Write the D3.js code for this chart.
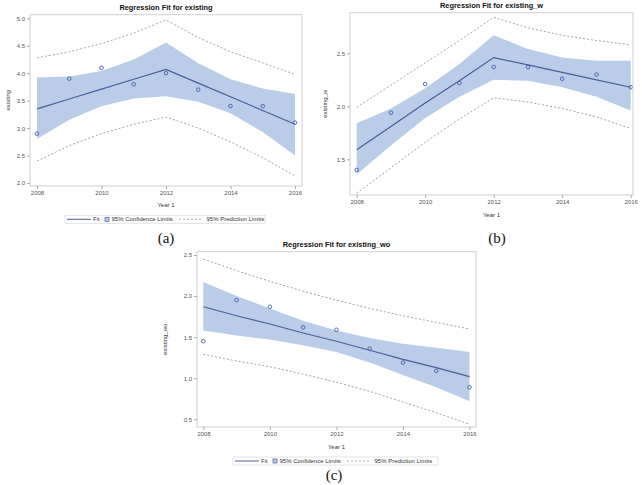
<!DOCTYPE html>
<html><head><meta charset="utf-8">
<script src="https://cdn.jsdelivr.net/npm/d3@7"></script>
<style>
html,body{margin:0;padding:0;background:#fff;}
svg{display:block;}
text{font-family:"Liberation Sans",Arial,sans-serif;}
</style></head>
<body><svg id="c" width="642" height="485"></svg>
<script>
// ---- data ----
const years = [2008, 2009, 2010, 2011, 2012, 2013, 2014, 2015, 2016];
const xTicks = [2008, 2010, 2012, 2014, 2016];

// (a) existing
const existingObs  = [2.90, 3.90, 4.10, 3.80, 4.00, 3.70, 3.40, 3.40, 3.10];
const existingFit  = [3.35, 3.53, 3.71, 3.89, 4.07, 3.82, 3.57, 3.32, 3.07];
const existingCIlo = [2.80, 3.15, 3.40, 3.54, 3.58, 3.48, 3.27, 2.93, 2.50];
const existingCIhi = [3.92, 3.94, 4.04, 4.25, 4.56, 4.18, 3.89, 3.72, 3.62];
const existingPIlo = [2.40, 2.68, 2.90, 3.07, 3.20, 3.00, 2.75, 2.46, 2.13];
const existingPIhi = [4.28, 4.39, 4.54, 4.73, 4.97, 4.65, 4.39, 4.19, 3.98];
const existingYTicks = [2.0, 2.5, 3.0, 3.5, 4.0, 4.5, 5.0];

// (b) existing_w
const existingWObs  = [1.40, 1.94, 2.21, 2.22, 2.37, 2.37, 2.26, 2.30, 2.18];
const existingWFit  = [1.59, 1.81, 2.03, 2.24, 2.46, 2.39, 2.32, 2.25, 2.18];
const existingWCIlo = [1.36, 1.63, 1.89, 2.09, 2.25, 2.24, 2.18, 2.09, 1.96];
const existingWCIhi = [1.84, 1.98, 2.17, 2.40, 2.67, 2.54, 2.46, 2.43, 2.43];
const existingWPIlo = [1.18, 1.42, 1.66, 1.88, 2.08, 2.04, 1.98, 1.90, 1.79];
const existingWPIhi = [1.99, 2.20, 2.41, 2.62, 2.84, 2.74, 2.67, 2.62, 2.58];
const existingWYTicks = [1.5, 2.0, 2.5];

// (c) existing_wo
const existingWoObs  = [1.45, 1.95, 1.87, 1.62, 1.59, 1.36, 1.19, 1.09, 0.89];
const existingWoFit  = [1.87, 1.76, 1.66, 1.55, 1.45, 1.34, 1.23, 1.13, 1.02];
const existingWoCIlo = [1.58, 1.52, 1.47, 1.40, 1.32, 1.19, 1.04, 0.89, 0.72];
const existingWoCIhi = [2.17, 2.00, 1.85, 1.70, 1.58, 1.49, 1.42, 1.37, 1.32];
const existingWoPIlo = [1.29, 1.21, 1.14, 1.05, 0.95, 0.84, 0.71, 0.58, 0.44];
const existingWoPIhi = [2.45, 2.31, 2.18, 2.06, 1.95, 1.85, 1.76, 1.68, 1.60];
const existingWoYTicks = [0.5, 1.0, 1.5, 2.0, 2.5];

const legendLabels = ["Fit", "95% Confidence Limits", "95% Prediction Limits"];
const captions = ["(a)", "(b)", "(c)"];

// ---- styling ----
const BAND = "#b9cde9", FIT = "#4a5e96", MARK = "#3f5fa8", PI = "#9a9a9a", FRAME = "#cfcfcf";

const svg = d3.select("#c");

function panel(o) {
  const g = svg.append("g");
  const x = d3.scaleLinear().domain([2008, 2016]).range(o.xr);
  const y = d3.scaleLinear().domain(o.yd).range(o.yr);
  const rows = years.map((yr, i) => ({yr, obs: o.obs[i], fit: o.fit[i], cl: o.cl[i], ch: o.ch[i], pl: o.pl[i], ph: o.ph[i]}));

  // band
  g.append("path").datum(rows)
    .attr("d", d3.area().x(d => x(d.yr)).y0(d => y(d.cl)).y1(d => y(d.ch)))
    .attr("fill", BAND);
  // prediction limits
  ["pl", "ph"].forEach(k => {
    g.append("path").datum(rows)
      .attr("d", d3.line().x(d => x(d.yr)).y(d => y(d[k])))
      .attr("fill", "none").attr("stroke", PI).attr("stroke-width", 0.9)
      .attr("stroke-dasharray", "2,2");
  });
  // fit
  g.append("path").datum(rows)
    .attr("d", d3.line().x(d => x(d.yr)).y(d => y(d.fit)))
    .attr("fill", "none").attr("stroke", FIT).attr("stroke-width", 1.2);
  // observations
  g.selectAll("circle.o").data(rows).enter().append("circle")
    .attr("cx", d => x(d.yr)).attr("cy", d => y(d.obs)).attr("r", 1.8)
    .attr("fill", "none").attr("stroke", MARK).attr("stroke-width", 0.9);

  // frame
  g.append("rect").attr("x", o.fx0).attr("y", o.fy0)
    .attr("width", o.fx1 - o.fx0).attr("height", o.fy1 - o.fy0)
    .attr("fill", "none").attr("stroke", FRAME).attr("stroke-width", 1);

  // axes
  const ax = g.append("g").attr("transform", `translate(0,${o.fy1})`)
    .call(d3.axisBottom(x).tickValues(xTicks).tickFormat(d3.format("d")).tickSize(3).tickPadding(2));
  const ay = g.append("g").attr("transform", `translate(${o.fx0},0)`)
    .call(d3.axisLeft(y).tickValues(o.yt).tickFormat(d3.format(".1f")).tickSize(3).tickPadding(2));
  [ax, ay].forEach(a => {
    a.select(".domain").remove();
    a.selectAll("line").attr("stroke", "#aaa");
    a.selectAll("text").attr("fill", "#555").style("font-size", "6px").style("font-family", "Liberation Sans, Arial, sans-serif");
  });

  // title
  g.append("text").attr("x", (o.fx0 + o.fx1) / 2).attr("y", o.fy0 - 5)
    .attr("text-anchor", "middle").style("font-size", "7.4px").style("font-weight", "bold").attr("fill", "#111")
    .text(o.title);
  // x label
  g.append("text").attr("x", (o.fx0 + o.fx1) / 2).attr("y", o.xly)
    .attr("text-anchor", "middle").style("font-size", "6px").attr("fill", "#333").text("Year 1");
  // y label
  g.append("text").attr("transform", `translate(${o.ylx},${(o.fy0 + o.fy1) / 2}) rotate(-90)`)
    .attr("text-anchor", "middle").style("font-size", "6px").attr("fill", "#333").text(o.ylab);

  // legend
  if (o.leg) {
    const L = o.leg;
    const lg = g.append("g").attr("transform", `translate(${L[0]},${L[1]})`);
    lg.append("rect").attr("x", 0).attr("y", 0).attr("width", L[2]).attr("height", 8)
      .attr("fill", "none").attr("stroke", "#ddd").attr("stroke-width", 0.8);
    lg.append("line").attr("x1", 2).attr("x2", 26).attr("y1", 4).attr("y2", 4).attr("stroke", FIT).attr("stroke-width", 1);
    lg.append("text").attr("x", 28).attr("y", 6.2).style("font-size", "6px").attr("fill", "#333").text(legendLabels[0]);
    lg.append("rect").attr("x", 40).attr("y", 2).attr("width", 4).attr("height", 4)
      .attr("fill", BAND).attr("stroke", FIT).attr("stroke-width", 0.7);
    lg.append("text").attr("x", 46.5).attr("y", 6.2).style("font-size", "6px").attr("fill", "#333").text(legendLabels[1]);
    lg.append("line").attr("x1", 114).attr("x2", 137).attr("y1", 4).attr("y2", 4)
      .attr("stroke", PI).attr("stroke-width", 0.8).attr("stroke-dasharray", "2,2");
    lg.append("text").attr("x", 141.5).attr("y", 6.2).style("font-size", "6px").attr("fill", "#333").text(legendLabels[2]);
  }

  // caption
  g.append("text").attr("x", o.cap[0]).attr("y", o.cap[1]).attr("text-anchor", "middle")
    .style("font-family", "Liberation Serif, DejaVu Serif, serif").style("font-size", "15px").attr("fill", "#111")
    .text(o.capText);
}

panel({
  title: "Regression Fit for existing", ylab: "existing",
  obs: existingObs, fit: existingFit, cl: existingCIlo, ch: existingCIhi, pl: existingPIlo, ph: existingPIhi,
  yd: [2, 5], yr: [183, 18.3], yt: existingYTicks,
  xr: [37, 295], fx0: 30, fx1: 302, fy0: 14.7, fy1: 186,
  xly: 206.5, ylx: 9.5, leg: [65, 215.3, 200], cap: [166, 242.5], capText: captions[0]
});
panel({
  title: "Regression Fit for existing_w", ylab: "existing_w",
  obs: existingWObs, fit: existingWFit, cl: existingWCIlo, ch: existingWCIhi, pl: existingWPIlo, ph: existingWPIhi,
  yd: [1.5, 2.5], yr: [159.3, 53.3], yt: existingWYTicks,
  xr: [356.7, 630.7], fx0: 350, fx1: 633, fy0: 12.7, fy1: 195,
  xly: 217, ylx: 327, leg: null, cap: [497, 243], capText: captions[1]
});
panel({
  title: "Regression Fit for existing_wo", ylab: "existing_wo",
  obs: existingWoObs, fit: existingWoFit, cl: existingWoCIlo, ch: existingWoCIhi, pl: existingWoPIlo, ph: existingWoPIhi,
  yd: [0.5, 2.5], yr: [419.3, 255], yt: existingWoYTicks,
  xr: [203.3, 469.5], fx0: 197, fx1: 476, fy0: 251.7, fy1: 427,
  xly: 449, ylx: 167, leg: [233, 457, 205], cap: [334, 480], capText: captions[2]
});
</script>
</body></html>
